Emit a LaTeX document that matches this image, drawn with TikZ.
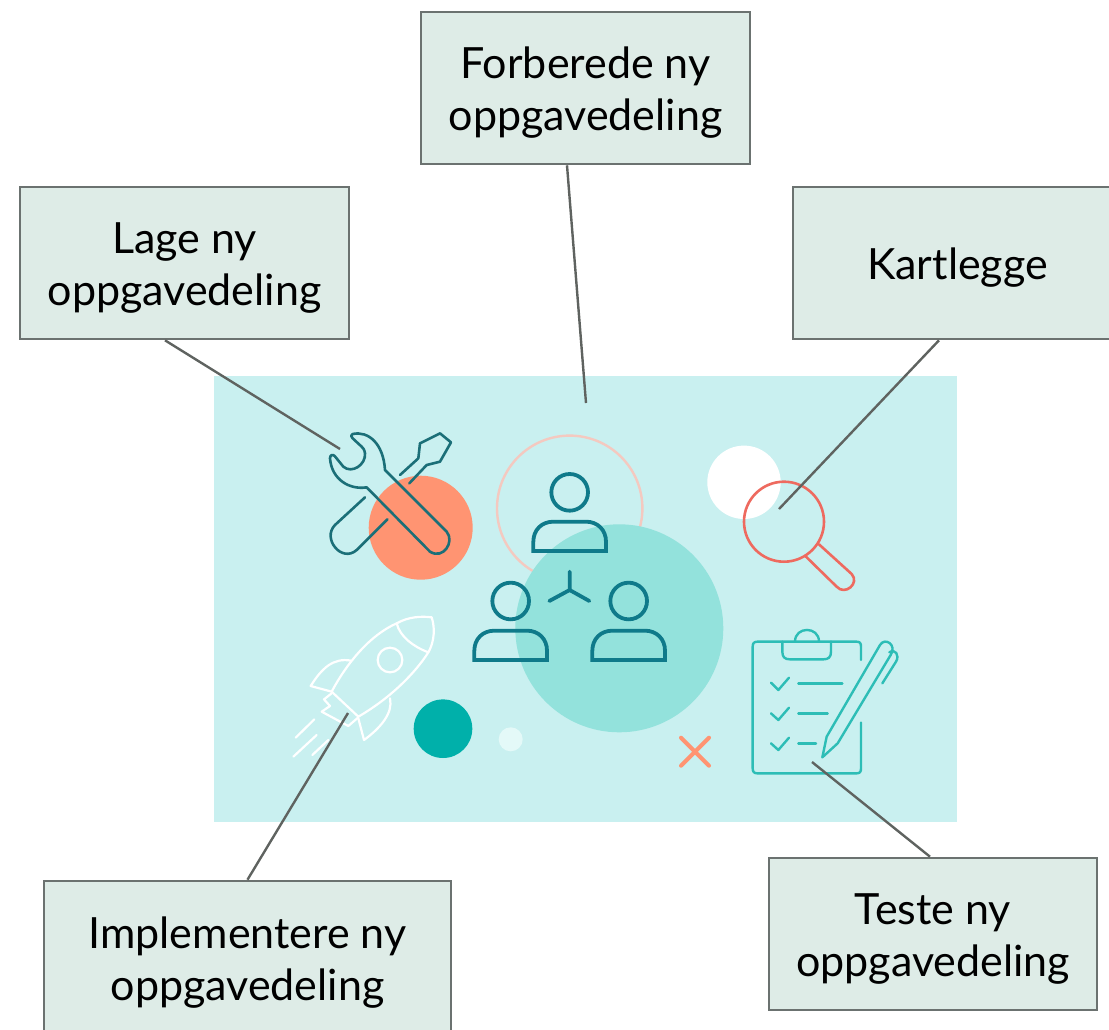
\documentclass[tikz,border=0pt]{standalone}
\usepackage{fontspec}
\setmainfont{Lato}
\usetikzlibrary{calc}
\definecolor{boxfill}{HTML}{DEECE7}
\definecolor{boxline}{HTML}{6B7270}
\definecolor{conn}{HTML}{5F6360}
\definecolor{bgc}{HTML}{C9F0F0}
\definecolor{orangec}{HTML}{FF9472}
\definecolor{ringc}{HTML}{F4C9C0}
\definecolor{bigc}{HTML}{93E2DC}
\definecolor{tealc}{HTML}{00B0AA}
\definecolor{palec}{HTML}{E4F9F8}
\definecolor{toolc}{HTML}{1B6F78}
\definecolor{peoplec}{HTML}{0F7A8A}
\definecolor{clipc}{HTML}{2DBDB6}
\definecolor{lensc}{HTML}{EE6A5F}
\newcommand{\topfix}{\rule{0pt}{40pt}}
\tikzset{
  labelbox/.style={draw=boxline,fill=boxfill,line width=2.6pt,inner sep=0pt,align=center,
    minimum width=329pt,minimum height=152pt,font=\fontsize{43}{52}\selectfont},
  conline/.style={draw=conn,line width=2.4pt},
  tool/.style={draw=toolc,line width=2.6pt,line join=round,line cap=round},
  person/.style={draw=peoplec,line width=3.8pt,line join=miter},
  rocket/.style={draw=white,line width=2.2pt,line join=round,line cap=round},
  clipb/.style={draw=clipc,line width=2.4pt,line join=round,line cap=round},
  lens/.style={draw=lensc,line width=2.6pt}
}
\begin{document}
\begin{tikzpicture}[x=1pt,y=-1pt]
\useasboundingbox (0,0) rectangle (1109,1029);
\clip (0,0) rectangle (1109,1029);
\fill[bgc] (214,376) rectangle (957,822);
% blobs
\fill[orangec] (420.7,527.7) circle[radius=52];
\draw[ringc,line width=2.4pt] (569.7,508.3) circle[radius=72.7];
\fill[bigc] (619.3,628.3) circle[radius=104];
\fill[white] (744,482.3) circle[radius=36.7];
\fill[tealc] (443,728.7) circle[radius=29.3];
\fill[palec] (510.7,739.3) circle[radius=12];
% tools
\begin{scope}[shift={(300,410)},scale=1/3]
\draw[tool] (158,72) .. controls (205,62) and (250,100) .. (255,180) -- (440,365)
  .. controls (465,395) and (430,450) .. (390,425) -- (200,232)
  .. controls (150,240) and (95,210) .. (90,145) .. controls (90,135) and (98,132) .. (104,138)
  -- (130,170) .. controls (155,192) and (198,165) .. (195,130) .. controls (193,118) and (190,115) .. (185,110) -- (158,85) .. controls (152,80) and (152,75) .. cycle;
\draw[tool] (195,262) -- (105,345) .. controls (65,385) and (125,460) .. (170,420) -- (262,328);
\draw[tool] (300,195) -- (355,145) -- (360,100) -- (420,70) -- (453,97) -- (420,155) -- (380,165) -- (328,220);
\end{scope}
% people
\begin{scope}[shift={(460,420)},scale=1/3]
\draw[person] (329,217) circle[radius=55];
\draw[person] (220,393) -- (220,365) .. controls (220,330) and (245,305) .. (280,305) -- (378,305) .. controls (413,305) and (438,330) .. (438,365) -- (438,393) -- cycle;
\draw[person] (152,543) circle[radius=55];
\draw[person] (43,720) -- (43,692) .. controls (43,657) and (68,632) .. (103,632) -- (201,632) .. controls (236,632) and (261,657) .. (261,692) -- (261,720) -- cycle;
\draw[person] (506,543) circle[radius=55];
\draw[person] (397,720) -- (397,692) .. controls (397,657) and (422,632) .. (457,632) -- (555,632) .. controls (590,632) and (615,657) .. (615,692) -- (615,720) -- cycle;
\draw[person,line cap=round] (329,455) -- (329,510) (268,543) -- (329,510) -- (388,543);
\end{scope}
% rocket
\begin{scope}[shift={(280,600)},scale=1/3]
\draw[rocket] (155,275) .. controls (200,190) and (270,105) .. (350,70) .. controls (385,50) and (425,48) .. (455,52)
  .. controls (470,100) and (455,140) .. (445,157) .. controls (405,220) and (330,295) .. (235,350) -- cycle;
\draw[rocket] (350,70) .. controls (360,110) and (400,140) .. (445,157);
\draw[rocket] (330,180) circle[radius=37];
\draw[rocket] (155,275) -- (92,258) .. controls (125,205) and (160,172) .. (213,182);
\draw[rocket] (330,295) .. controls (340,340) and (300,385) .. (252,420) -- (235,355);
\draw[rocket] (155,280) -- (132,298) -- (150,318) -- (125,335) -- (205,378) -- (235,352);
\draw[rocket] (47,413) -- (103,358) (40,470) -- (110,405) (97,465) -- (145,420);
\end{scope}
% clipboard
\begin{scope}[shift={(670,620)},scale=1/3]
\draw[clipb] (573,120) -- (573,80) .. controls (573,70) and (570,65) .. (560,65) -- (262,65) .. controls (252,65) and (248,70) .. (248,80) -- (248,445) .. controls (248,455) and (252,460) .. (262,460) -- (560,460) .. controls (570,460) and (573,455) .. (573,445) -- (573,308);
\draw[clipb] (337,65) -- (337,95) .. controls (337,112) and (345,118) .. (360,118) -- (460,118) .. controls (475,118) and (483,112) .. (483,95) -- (483,65);
\draw[clipb] (375,65) .. controls (375,18) and (447,18) .. (447,65);
\draw[clipb] (303,188) -- (325,210) -- (357,173) (303,280) -- (325,300) -- (357,263) (303,370) -- (325,390) -- (357,353);
\draw[clipb] (385,190) -- (517,190) (385,280) -- (473,280) (385,370) -- (438,370);
\draw[clipb] (457,412) -- (470,350) -- (630,75) .. controls (645,50) and (682,75) .. (662,105) -- (503,370) -- cycle;
\draw[clipb] (658,97) .. controls (675,85) and (690,105) .. (678,125) -- (637,190);
\end{scope}
\draw[orangec,line width=4pt,line cap=round] (681,737.7) -- (709,765.7) (709,737.7) -- (681,765.7);
% magnifier
\draw[lens] (784,521.7) circle[radius=40];
\begin{scope}[shift={(700,430)},scale=1/3]
\draw[lens,line cap=round,line join=round] (357,343) -- (455,432) .. controls (480,460) and (435,498) .. (410,470) -- (318,380);
\end{scope}
% labels
\node[labelbox] (forb) at (585.5,88) {\topfix Forberede ny\\oppgavedeling};
\node[labelbox] (lage) at (184.5,263) {\topfix Lage ny\\oppgavedeling};
\node[labelbox] (kart) at (957.5,263) {\topfix Kartlegge};
\node[labelbox,minimum width=407pt,minimum height=154pt] (impl) at (247.5,958) {\topfix Implementere ny\\oppgavedeling};
\node[labelbox,minimum width=328pt] (test) at (933,934) {\topfix Teste ny\\oppgavedeling};
% connector ends
\coordinate (forbend) at (586,403);
\coordinate (lageend) at (340,449);
\coordinate (kartend) at (779,509);
\coordinate (implend) at (348,713);
\coordinate (testend) at (812,762);
\draw[conline] ($(forb.south)+(-18.5,0)$) -- (forbend);
\draw[conline] ($(lage.south)+(-19.5,0)$) -- (lageend);
\draw[conline] ($(kart.south)+(-18.5,0)$) -- (kartend);
\draw[conline] (impl.north) -- (implend);
\draw[conline] ($(test.north)+(-3,0)$) -- (testend);
\end{tikzpicture}
\end{document}
